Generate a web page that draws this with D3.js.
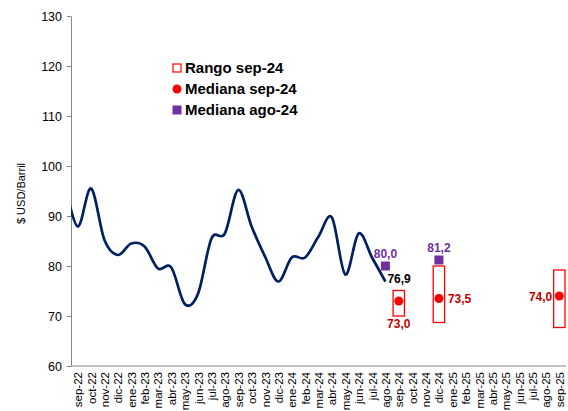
<!DOCTYPE html>
<meta charset="utf-8">
<style>
body { margin: 0; background: #fff; }
svg { font-family: Arial, "Liberation Sans", sans-serif; }
.axis path, .axis line { stroke: #868686; }
.axis text { fill: #000; }
</style>
<svg width="568" height="411"></svg>
<script src="https://d3js.org/d3.v7.min.js"></script>
<script>

// x axis categories, sep-22 .. sep-25
var months = ["sep-22","oct-22","nov-22","dic-22","ene-23","feb-23","mar-23","abr-23","may-23","jun-23",
  "jul-23","ago-23","sep-23","oct-23","nov-23","dic-23","ene-24","feb-24","mar-24","abr-24","may-24",
  "jun-24","jul-24","ago-24","sep-24","oct-24","nov-24","dic-24","ene-25","feb-25","mar-25","abr-25",
  "may-25","jun-25","jul-25","ago-25","sep-25"];

// observed price (line); first value is ago-22, cut at the plot edge
var priceMonths = ["ago-22","sep-22","oct-22","nov-22","dic-22","ene-23","feb-23","mar-23","abr-23","may-23",
  "jun-23","jul-23","ago-23","sep-23","oct-23","nov-23","dic-23","ene-24","feb-24","mar-24","abr-24",
  "may-24","jun-24","jul-24","ago-24"];
var priceValues = [97.0,87.9,95.5,85.2,82.2,84.5,83.9,79.5,79.7,72.4,74.5,85.5,86.5,95.2,87.9,81.9,76.9,
  81.7,81.7,85.9,89.7,78.3,86.5,81.7,76.9];

// survey results
var rangoMonths = ["sep-24","dic-24","sep-25"];
var rangoLow = [70.0,68.7,67.7];
var rangoHigh = [75.1,80.0,79.2];
var medianSep = [73.0,73.5,74.0];
var medianAgoMonths = ["ago-24","dic-24"];
var medianAgo = [80.0,81.2];

var yTicks = [60,70,80,90,100,110,120,130];
var legendLabels = ["Rango sep-24","Mediana sep-24","Mediana ago-24"];

var svg = d3.select("svg"),
    x0 = 71, x1 = 566, y0 = 16, y1 = 366;

var x = d3.scaleLinear().domain([-0.5, months.length - 0.5]).range([x0, x1]);
var y = d3.scaleLinear().domain([60, 130]).range([y1, y0]);
var idx = function(m) { return months.indexOf(m) >= 0 ? months.indexOf(m) : -1; };
var step = x(1) - x(0);

var fmt = function(v) { return v.toFixed(1).replace(".", ","); };

// axes
svg.append("g")
    .attr("class", "axis")
    .attr("transform", "translate(" + x0 + ",0)")
    .call(d3.axisLeft(y).tickValues(yTicks).tickSize(4).tickPadding(5).tickSizeOuter(0))
    .call(function(g) { g.selectAll("text").style("font-size", "12.5px"); });

var xAxis = svg.append("g")
    .attr("class", "axis")
    .attr("transform", "translate(0," + y1 + ")")
    .call(d3.axisBottom(x).tickValues(d3.range(months.length))
      .tickFormat(function(i) { return months[i]; }).tickSize(0).tickSizeOuter(0));
xAxis.select(".domain").attr("d", "M" + x0 + ",0H" + x1);
xAxis.selectAll("text")
    .style("font-size", "11.5px")
    .attr("text-anchor", "end")
    .attr("dy", "0.35em")
    .attr("transform", "translate(0,6) rotate(-90)")
    .attr("x", 0).attr("y", 0);

svg.append("text")
    .attr("transform", "translate(25," + y(94.5) + ") rotate(-90)")
    .attr("text-anchor", "middle")
    .style("font-size", "11px")
    .text("$ USD/Barril");

// price line
svg.append("clipPath").attr("id", "plot")
  .append("rect").attr("x", x0).attr("y", 0).attr("width", x1 - x0).attr("height", y1);

var line = d3.line()
    .x(function(d, i) { return x(idx(priceMonths[i])); })
    .y(function(d) { return y(d); })
    .curve(d3.curveCardinal.tension(0));

svg.append("path")
    .datum(priceValues)
    .attr("clip-path", "url(#plot)")
    .attr("fill", "none")
    .attr("stroke", "#002060")
    .attr("stroke-width", 2.7)
    .attr("d", line);

// range boxes
var bw = step * 0.85;
svg.append("g").selectAll("rect")
  .data(rangoMonths)
  .enter().append("rect")
    .attr("x", function(m) { return x(idx(m)) - bw / 2; })
    .attr("y", function(m, i) { return y(rangoHigh[i]); })
    .attr("width", bw)
    .attr("height", function(m, i) { return y(rangoLow[i]) - y(rangoHigh[i]); })
    .attr("fill", "#fff")
    .attr("stroke", "#FF0000")
    .attr("stroke-width", 1.3);

// median sep-24
svg.append("g").selectAll("circle")
  .data(rangoMonths)
  .enter().append("circle")
    .attr("cx", function(m) { return x(idx(m)); })
    .attr("cy", function(m, i) { return y(medianSep[i]); })
    .attr("r", 4.5)
    .attr("fill", "#FF0000");

// median ago-24
var sq = 9;
svg.append("g").selectAll("rect")
  .data(medianAgoMonths)
  .enter().append("rect")
    .attr("x", function(m) { return x(idx(m)) - sq / 2; })
    .attr("y", function(m, i) { return y(medianAgo[i]) - sq / 2; })
    .attr("width", sq).attr("height", sq)
    .attr("fill", "#7030A0");

// data labels
var labels = svg.append("g").style("font-size", "12px").style("font-weight", "bold");
medianAgoMonths.forEach(function(m, i) {
  labels.append("text")
      .attr("x", x(idx(m)))
      .attr("y", y(medianAgo[i]) - 8)
      .attr("text-anchor", "middle")
      .attr("fill", "#7030A0")
      .text(fmt(medianAgo[i]));
});
labels.append("text")
    .attr("x", x(idx("ago-24")) + 2)
    .attr("y", y(priceValues[priceValues.length - 1]) + 1)
    .attr("fill", "#000")
    .text(fmt(priceValues[priceValues.length - 1]));

var sepLabelPos = [
  {dx: 0, anchor: "middle"},
  {dx: 9, anchor: "start"},
  {dx: -7, anchor: "end"}
];
rangoMonths.forEach(function(m, i) {
  var p = sepLabelPos[i];
  var ty = i === 0 ? y(rangoLow[i]) + 12 : y(medianSep[i]) + 4.5;
  labels.append("text")
      .attr("x", x(idx(m)) + p.dx)
      .attr("y", ty)
      .attr("text-anchor", p.anchor)
      .attr("fill", "#C00000")
      .text(fmt(medianSep[i]));
});

// legend
var legend = svg.append("g").attr("transform", "translate(177,68)");
var rowH = 21;
legend.append("rect").attr("x", -4).attr("y", -4).attr("width", 8).attr("height", 8)
    .attr("fill", "#fff").attr("stroke", "#FF0000").attr("stroke-width", 1.2);
legend.append("circle").attr("cx", 0).attr("cy", rowH).attr("r", 4.5).attr("fill", "#FF0000");
legend.append("rect").attr("x", -4.5).attr("y", 2 * rowH - 4.5).attr("width", 9).attr("height", 9)
    .attr("fill", "#7030A0");
legend.selectAll("text")
  .data(legendLabels)
  .enter().append("text")
    .attr("x", 8)
    .attr("y", function(d, i) { return i * rowH + 5; })
    .style("font-size", "15px")
    .style("font-weight", "bold")
    .text(function(d) { return d; });

</script>
